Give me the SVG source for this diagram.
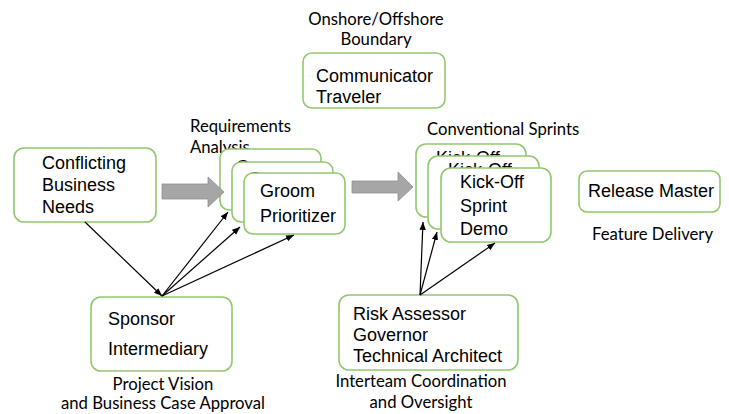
<svg xmlns="http://www.w3.org/2000/svg" width="729" height="414" viewBox="0 0 729 414">
<style>
.box{fill:#fff;stroke:#92c76f;stroke-width:1.6}
.bt{font-family:"Liberation Sans",Arial,sans-serif;font-size:18px;fill:#000}
.lb{font-family:Lato,"Open Sans",sans-serif;font-size:16.7px;fill:#000}
.ct{text-anchor:middle}
.con{stroke:#000;stroke-width:1.2;fill:none;marker-end:url(#ah)}
.blk{fill:#a6a6a6;stroke:#8f8f8f;stroke-width:0.8}
</style>
<defs>
<marker id="ah" viewBox="0 0 10 10" refX="10" refY="5" markerWidth="8" markerHeight="8" markerUnits="userSpaceOnUse" orient="auto">
<path d="M0,1 L10,5 L0,9 z" fill="#000"/>
</marker>
</defs>
<rect width="729" height="414" fill="#fff"/>

<g id="labels">
<text class="lb ct" x="376" y="25">Onshore/Offshore</text>
<text class="lb ct" x="376" y="45">Boundary</text>
<text class="lb" x="190" y="132">Requirements</text>
<text class="lb" x="190" y="153">Analysis</text>
<text class="lb" x="427" y="135">Conventional Sprints</text>
<text class="lb" x="592" y="240">Feature Delivery</text>
<text class="lb ct" x="163" y="390">Project Vision</text>
<text class="lb ct" x="163" y="409">and Business Case Approval</text>
<text class="lb ct" x="421" y="387">Interteam Coordination</text>
<text class="lb ct" x="421" y="408">and Oversight</text>
</g>

<g id="communicator">
<rect class="box" x="303" y="53" width="142" height="55" rx="9"/>
<text class="bt" x="316" y="82">Communicator</text>
<text class="bt" x="316" y="103">Traveler</text>
</g>

<g id="conflicting">
<rect class="box" x="14" y="148" width="142" height="74" rx="10"/>
<text class="bt" x="42" y="169">Conflicting</text>
<text class="bt" x="42" y="191">Business</text>
<text class="bt" x="42" y="213">Needs</text>
</g>

<g id="groom-stack">
<rect class="box" x="220" y="149" width="101" height="61" rx="9"/>
<text class="bt" x="236" y="173">Groom</text>
<rect class="box" x="232" y="162" width="101" height="60" rx="9"/>
<text class="bt" x="248" y="185">Groom</text>
<rect class="box" x="244" y="173" width="101" height="61" rx="9"/>
<text class="bt" x="260" y="197">Groom</text>
<text class="bt" x="260" y="222">Prioritizer</text>
</g>

<g id="kickoff-stack">
<rect class="box" x="416" y="144" width="110" height="73" rx="10"/>
<text class="bt" x="436" y="164">Kick-Off</text>
<rect class="box" x="428" y="156" width="111" height="73" rx="10"/>
<text class="bt" x="448" y="176">Kick-Off</text>
<rect class="box" x="441" y="168" width="110" height="74" rx="10"/>
<text class="bt" x="460" y="188">Kick-Off</text>
<text class="bt" x="460" y="212">Sprint</text>
<text class="bt" x="460" y="235">Demo</text>
</g>

<g id="release">
<rect class="box" x="579" y="171" width="141" height="41" rx="8"/>
<text class="bt" x="588" y="197">Release Master</text>
</g>

<g id="sponsor">
<rect class="box" x="91" y="297" width="141" height="74" rx="10"/>
<text class="bt" x="108" y="325">Sponsor</text>
<text class="bt" x="108" y="355">Intermediary</text>
</g>

<g id="risk">
<rect class="box" x="339" y="295" width="179" height="75" rx="10"/>
<text class="bt" x="353" y="320">Risk Assessor</text>
<text class="bt" x="353" y="341">Governor</text>
<text class="bt" x="353" y="362">Technical Architect</text>
</g>

<g id="connectors">
<path class="blk" d="M162,184 L208,184 L208,177 L224,192 L208,207 L208,199 L162,199 Z"/>
<path class="blk" d="M352,181 L398,181 L398,172 L413,187 L398,201 L398,193 L352,193 Z"/>
<line class="con" x1="85" y1="222" x2="162" y2="296"/>
<line class="con" x1="162" y1="296" x2="228" y2="212"/>
<line class="con" x1="162" y1="296" x2="240" y2="227"/>
<line class="con" x1="162" y1="296" x2="294" y2="235"/>
<line class="con" x1="420" y1="295" x2="423" y2="222"/>
<line class="con" x1="420" y1="295" x2="437" y2="232"/>
<line class="con" x1="420" y1="295" x2="495" y2="243"/>
</g>
</svg>
